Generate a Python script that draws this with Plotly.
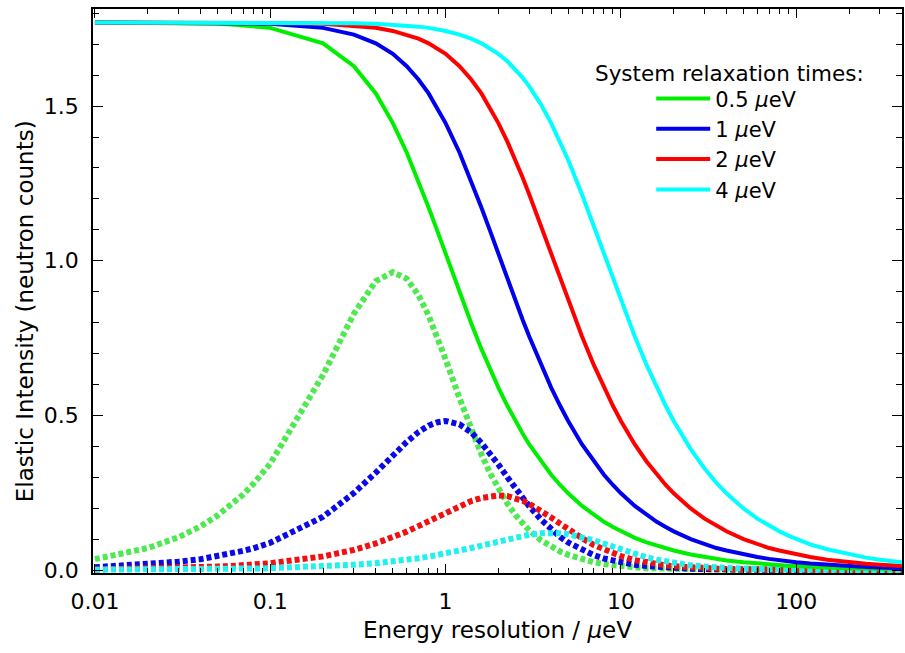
import plotly.graph_objects as go

# Energy resolution grid (µeV)
energy = [0.01, 0.02, 0.03, 0.04, 0.05, 0.06, 0.07, 0.08, 0.09,
          0.1, 0.2, 0.3, 0.4, 0.5, 0.6, 0.7, 0.8, 0.9,
          1, 1.2, 1.4, 1.6, 1.8, 2, 2.25, 2.5, 2.75,
          3, 3.5, 4, 4.5, 5, 6, 7, 8, 9,
          10, 12, 14, 16, 18, 20, 25, 30, 35,
          40, 50, 60, 70, 80, 90,
          100, 120, 150, 200, 250, 300, 400]

relax_labels = ["0.5 <i>µ</i>eV", "1 <i>µ</i>eV", "2 <i>µ</i>eV", "4 <i>µ</i>eV"]

# Elastic intensity (solid curves), in units of 1e-3 neutron counts
elastic_05 = [1770, 1769, 1768, 1767, 1766, 1764, 1761, 1759, 1756,
              1753, 1703, 1629, 1541, 1445, 1350, 1258, 1172, 1094,
              1022, 899, 798, 715, 647, 590, 531, 482, 441,
              406, 351, 308, 275, 248, 207, 178, 156, 139,
              125, 104, 89, 78, 69, 63, 50, 42, 36,
              31, 25, 21, 18, 16, 14,
              13, 10, 8, 6, 5, 4, 3]
elastic_1 = [1770, 1770, 1770, 1769, 1769, 1768, 1768, 1767, 1766,
             1766, 1753, 1731, 1703, 1669, 1629, 1586, 1541, 1493,
             1445, 1350, 1258, 1172, 1094, 1022, 942, 871, 809,
             755, 663, 590, 531, 482, 406, 351, 308, 275,
             248, 207, 178, 156, 139, 125, 100, 83, 71,
             63, 50, 42, 36, 31, 28,
             25, 21, 17, 13, 10, 8, 6]
elastic_2 = [1770, 1770, 1770, 1770, 1770, 1770, 1769, 1769, 1769,
             1769, 1766, 1760, 1753, 1743, 1731, 1718, 1703, 1687,
             1669, 1629, 1586, 1541, 1493, 1445, 1385, 1326, 1269,
             1214, 1113, 1022, 942, 871, 755, 663, 590, 531,
             482, 406, 351, 308, 275, 248, 199, 166, 143,
             125, 100, 83, 71, 63, 56,
             50, 42, 33, 25, 20, 17, 13]
elastic_4 = [1770, 1770, 1770, 1770, 1770, 1770, 1770, 1770, 1770,
             1770, 1769, 1768, 1766, 1763, 1760, 1757, 1753, 1748,
             1743, 1731, 1718, 1703, 1687, 1669, 1645, 1619, 1592,
             1564, 1505, 1445, 1385, 1326, 1214, 1113, 1022, 942,
             871, 755, 663, 590, 531, 482, 391, 328, 282,
             248, 199, 166, 143, 125, 111,
             100, 83, 67, 50, 40, 33, 25]

# Dotted curves (change of elastic intensity), in units of 1e-3
deriv_05 = [35, 71, 106, 141, 176, 210, 244, 278, 311,
            344, 631, 829, 934, 963, 942, 889, 823, 751,
            681, 556, 454, 374, 311, 262, 215, 178, 150,
            128, 96, 75, 60, 49, 34, 25, 19, 15,
            12, 9, 6, 5, 4, 3, 2, 1, 1,
            1, 1, 0, 0, 0, 0,
            0, 0, 0, 0, 0, 0, 0]
deriv_1 = [9, 18, 27, 35, 44, 53, 62, 70, 79,
           88, 172, 249, 315, 371, 414, 446, 467, 478,
           482, 471, 445, 411, 376, 341, 300, 264, 233,
           206, 163, 131, 107, 89, 64, 48, 37, 30,
           24, 17, 13, 10, 8, 6, 4, 3, 2,
           2, 1, 1, 1, 0, 0,
           0, 0, 0, 0, 0, 0, 0]
deriv_2 = [2, 4, 7, 9, 11, 13, 15, 18, 20,
           22, 44, 65, 86, 106, 124, 142, 158, 172,
           185, 207, 223, 233, 239, 241, 239, 233, 224,
           214, 192, 170, 150, 132, 103, 81, 66, 54,
           45, 32, 24, 19, 15, 12, 8, 5, 4,
           3, 2, 1, 1, 1, 1,
           1, 0, 0, 0, 0, 0, 0]
deriv_4 = [1, 1, 2, 2, 3, 3, 4, 4, 5,
           6, 11, 17, 22, 27, 33, 38, 43, 48,
           53, 62, 71, 79, 86, 93, 100, 106, 111,
           114, 119, 120, 119, 116, 107, 96, 85, 75,
           66, 51, 41, 33, 27, 22, 15, 11, 8,
           6, 4, 3, 2, 2, 1,
           1, 1, 0, 0, 0, 0, 0]

elastic = [elastic_05, elastic_1, elastic_2, elastic_4]
derivs = [deriv_05, deriv_1, deriv_2, deriv_4]
solid_colors = ["#00ee00", "#0000ee", "#ff0000", "#00ffff"]
dot_colors = ["#50e850", "#0a0ae6", "#f01010", "#20f0f0"]

FONT = "DejaVu Sans"

fig = go.Figure()
for vals, col in zip(derivs, dot_colors):
    fig.add_trace(go.Scatter(x=energy, y=[v / 1000 for v in vals], mode="lines",
                             line=dict(color=col, width=6, dash="5px,3px"),
                             showlegend=False, hoverinfo="skip"))
for vals, col, name in zip(elastic, solid_colors, relax_labels):
    fig.add_trace(go.Scatter(x=energy, y=[v / 1000 for v in vals], mode="lines",
                             line=dict(color=col, width=4), name=name))

fig.update_layout(
    width=905, height=653,
    margin=dict(l=93, r=1, t=9, b=80),
    paper_bgcolor="white", plot_bgcolor="white",
    font=dict(family=FONT, size=21, color="black"),
    showlegend=True,
    legend=dict(x=0.690, y=0.877, xanchor="left", yanchor="top",
                bgcolor="rgba(0,0,0,0)", font=dict(size=21, family=FONT),
                itemwidth=54, tracegroupgap=0),
    annotations=[
        dict(text="System relaxation times:", xref="paper", yref="paper",
             x=0.7865, y=0.8865, xanchor="center", yanchor="middle",
             showarrow=False, font=dict(size=21.5, family=FONT)),
        dict(text="Elastic Intensity (neutron counts)", xref="paper", yref="paper",
             x=-0.0838, y=0.4645, xanchor="center", yanchor="middle", textangle=-90,
             showarrow=False, font=dict(size=23, family=FONT)),
    ],
)

fig.update_xaxes(
    type="log", range=[-2.011, 2.603],
    showline=True, linecolor="black", linewidth=1.5, mirror="ticks",
    ticks="inside", ticklen=9, tickwidth=1.2, tickcolor="black",
    tickvals=[0.01, 0.1, 1, 10, 100], ticktext=["0.01", "0.1", "1", "10", "100"],
    tickfont=dict(size=22, family=FONT), ticklabelstandoff=8,
    minor=dict(ticks="inside", ticklen=5, tickwidth=1, tickcolor="black", dtick="D1", showgrid=False),
    showgrid=False, zeroline=False,
    title=dict(text="Energy resolution / <i>µ</i>eV", font=dict(size=23, family=FONT), standoff=9),
)
fig.update_yaxes(
    range=[-0.0097, 1.814],
    showline=True, linecolor="black", linewidth=1.5, mirror="ticks",
    ticks="inside", ticklen=10, tickwidth=1.2, tickcolor="black",
    tickvals=[0, 0.5, 1.0, 1.5], ticktext=["0.0", "0.5", "1.0", "1.5"],
    tickfont=dict(size=22, family=FONT), ticklabelstandoff=8,
    minor=dict(ticks="inside", ticklen=6, tickwidth=1, tickcolor="black", dtick=0.1, showgrid=False),
    showgrid=False, zeroline=False,
)

fig.write_html("out.html")
